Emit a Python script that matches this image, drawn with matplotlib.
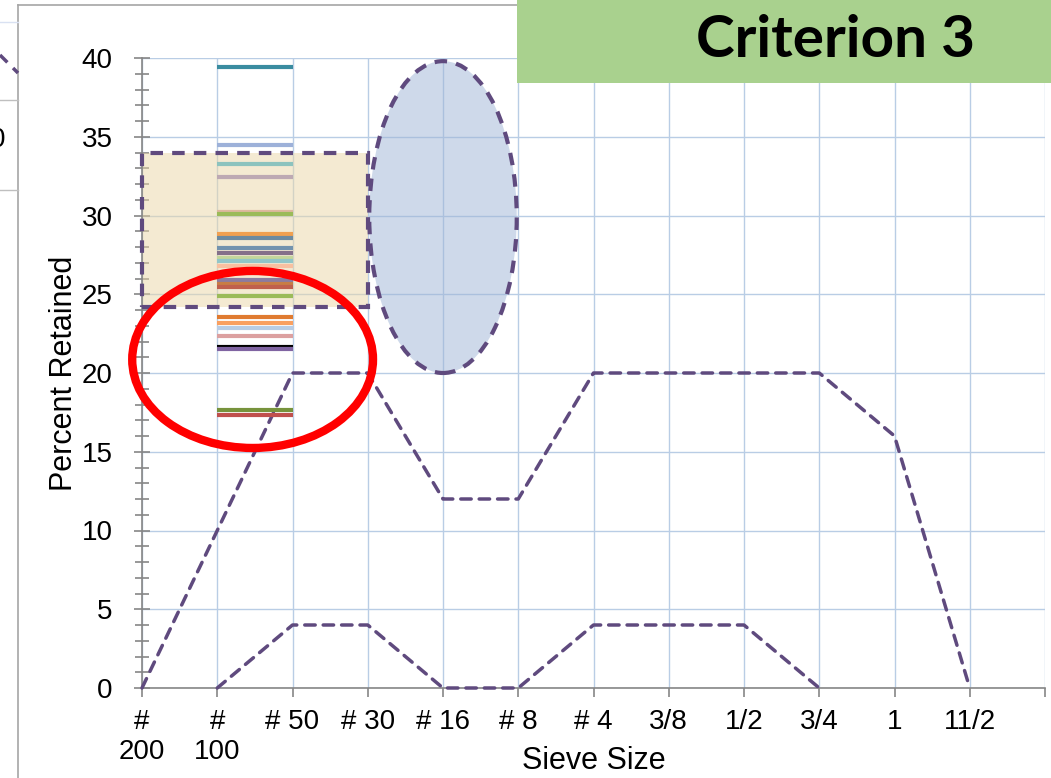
import numpy as np
import matplotlib.pyplot as plt
from matplotlib.patches import Rectangle, Ellipse
from matplotlib.lines import Line2D
from matplotlib.ticker import MultipleLocator

plt.rcParams['font.family'] = ['Liberation Sans', 'DejaVu Sans']

# Sieve sizes (category axis)
sieves = ['#\n200', '#\n100', '# 50', '# 30', '# 16', '# 8', '# 4',
          '3/8', '1/2', '3/4', '1', '11/2']

# Criterion band limits (percent retained)
upper_limit = [0, 10, 20, 20, 12, 12, 20, 20, 20, 20, 16, 0]
lower_limit = [np.nan, 0, 4, 4, 0, 0, 4, 4, 4, 0, np.nan, np.nan]

# Individual mixes: percent retained on # 100 (drawn between # 100 and # 50)
mix_retained = [39.4, 34.5, 33.25, 32.45, 30.25, 30.1, 28.8, 28.55, 27.95,
                27.6, 27.3, 27.1, 26.8, 25.9, 25.65, 25.45, 24.87, 23.56,
                23.15, 22.88, 22.35, 21.67, 21.55, 17.65, 17.33]
mix_colors = ['#3A8CA0', '#9DB1D9', '#8CC3BE', '#BDA9B3', '#DDB89E', '#9BBB59',
              '#F0A050', '#6C8AA0', '#7393AE', '#84708A', '#C3D69B', '#92C6C8',
              '#F8C0A0', '#8C7BA0', '#C87D45', '#C0604D', '#9BBB59', '#E07B30',
              '#FAA060', '#B9CDE5', '#DCA0A0', '#000000', '#8064A2', '#77933C',
              '#C0504D']

# Highlight zones
box_x, box_y, box_w, box_h = 0, 24.2, 3, 9.8
oval_c, oval_w, oval_h = (4, 29.9), 1.96, 19.8
ring_c, ring_w, ring_h = (1.47, 20.86), 3.2, 11.24

W, H = 1051, 778
fig = plt.figure(figsize=(W / 100, H / 100), dpi=100)
ax = fig.add_axes([142 / W, 90 / H, 903 / W, 630 / H])

purple = '#5F4A7E'
grid_c = '#B9CDE5'
axis_c = '#868686'
dash = (0, (3, 2.3))

x = np.arange(len(sieves))
ax.plot(x, upper_limit, color=purple, lw=2.5, ls=dash,
        dash_capstyle='round', clip_on=False, zorder=3)
ax.plot(x, lower_limit, color=purple, lw=2.5, ls=dash,
        dash_capstyle='round', clip_on=False, zorder=3)

for v, c in zip(mix_retained, mix_colors):
    ax.plot([1, 2], [v, v], color=c, lw=3, solid_capstyle='butt', zorder=4)

ax.add_patch(Rectangle((box_x, box_y), box_w, box_h, facecolor='#EBD7A7',
                       alpha=0.5, edgecolor='none', zorder=1.5))
ax.add_patch(Rectangle((box_x, box_y), box_w, box_h, facecolor='none',
                       edgecolor=purple, lw=3, ls=(0, (3, 2.2)), zorder=5,
                       clip_on=False))
ax.add_patch(Ellipse(oval_c, oval_w, oval_h, facecolor='#9FB4D6', alpha=0.5,
                     edgecolor='none', zorder=1.5))
ax.add_patch(Ellipse(oval_c, oval_w, oval_h, facecolor='none', edgecolor=purple,
                     lw=3, ls=(0, (3, 2.2)), zorder=5, clip_on=False))
ax.add_patch(Ellipse(ring_c, ring_w, ring_h, facecolor='none', edgecolor='#FF0000',
                     lw=6, zorder=6, clip_on=False))

ax.set_xlim(0, 12)
ax.set_ylim(0, 40)
ax.set_xticks(list(x) + [12])
ax.set_xticklabels(sieves + [''], fontsize=20)
ax.yaxis.set_major_locator(MultipleLocator(5))
ax.yaxis.set_minor_locator(MultipleLocator(1))
ax.tick_params(axis='y', which='major', direction='inout', length=12, width=1.2,
               color=axis_c, pad=15, labelsize=20)
ax.tick_params(axis='y', which='minor', direction='inout', length=9.5, width=1.2,
               color=axis_c)
ax.tick_params(axis='x', direction='out', length=6.5, width=1.2, color=axis_c, pad=8.5)

ax.grid(True, which='major', color=grid_c, lw=1)
ax.set_axisbelow(True)
for s in ['top', 'right']:
    ax.spines[s].set_visible(False)
for s in ['left', 'bottom']:
    ax.spines[s].set_color(axis_c)
    ax.spines[s].set_linewidth(1.2)

ax.set_xlabel('Sieve Size', fontsize=22)
ax.xaxis.set_label_coords(0.5, -0.092)
ax.set_ylabel('Percent Retained', fontsize=22)
ax.yaxis.set_label_coords(-0.07, 0.5)

# chart frame and the neighbouring chart peeking in on the left
ft = fig.transFigure
fig.add_artist(Line2D([18 / W, 18 / W], [0, 1 - 5 / H], color='#A6A6A6', lw=1.2, transform=ft))
fig.add_artist(Line2D([18 / W, 1], [1 - 5 / H, 1 - 5 / H], color='#A6A6A6', lw=1.2, transform=ft))
fig.add_artist(Line2D([0, 18 / W], [1 - 22 / H] * 2, color='#D9E1F2', lw=1, transform=ft))
fig.add_artist(Line2D([0, 18 / W], [1 - 100 / H] * 2, color='#BFBFBF', lw=1, transform=ft))
fig.add_artist(Line2D([0, 18 / W], [1 - 190 / H] * 2, color='#BFBFBF', lw=1, transform=ft))
fig.add_artist(Line2D([0, 18 / W], [1 - 55 / H, 1 - 73 / H], color=purple, lw=2.5,
                      ls=dash, transform=ft))
fig.text(5 / W, 1 - 147 / H, '0', ha='right', va='baseline', fontsize=20)

# title banner
fig.add_artist(Rectangle((517 / W, 1 - 83 / H), (W - 517) / W, 83 / H, transform=ft,
                         facecolor='#A9D18E', edgecolor='none', zorder=10))
fig.text(836 / W, 1 - 57 / H, 'Criterion 3', ha='center', va='baseline', fontsize=42,
         fontweight='bold', family=['Lato', 'DejaVu Sans'], zorder=11)

fig.savefig('out.png', dpi=100)
